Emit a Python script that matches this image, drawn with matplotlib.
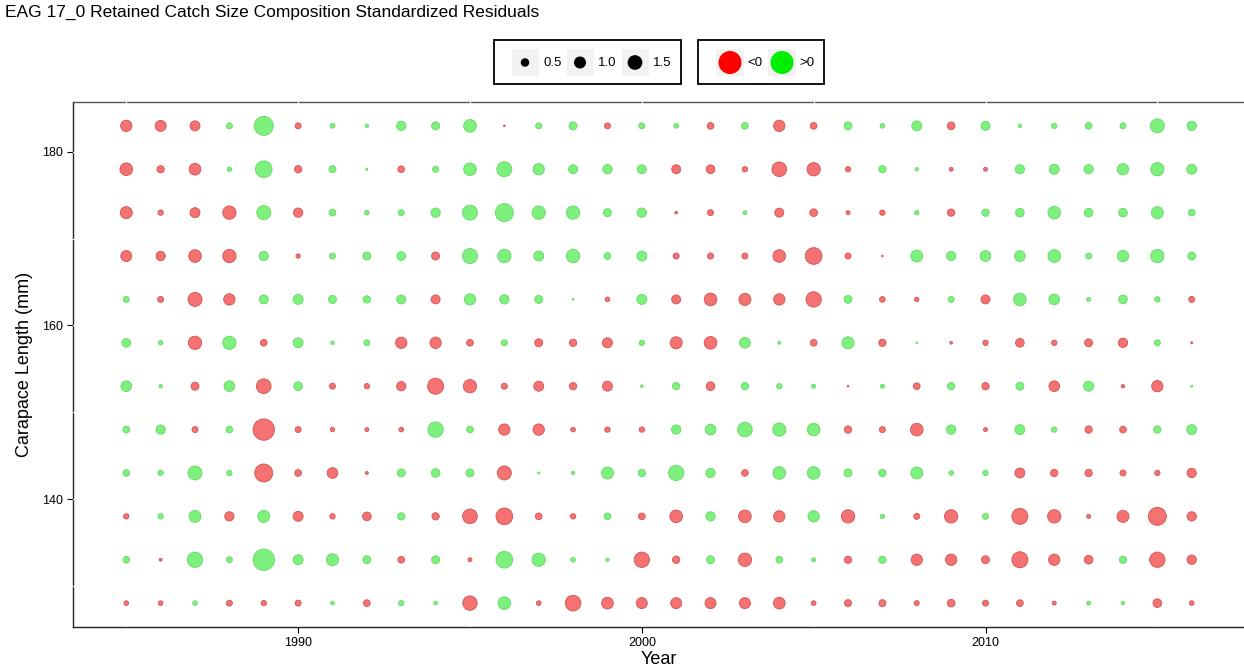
import numpy as np
import matplotlib
matplotlib.use('Agg')
import matplotlib.pyplot as plt
from matplotlib.patches import Rectangle

plt.rcParams['font.family'] = ['Liberation Sans', 'DejaVu Sans']

# Trục dữ liệu
years = list(range(1985, 2017))
lengths = [128, 133, 138, 143, 148, 153, 158, 163, 168, 173, 178, 183]
x_ticks = [1990, 2000, 2010]
y_ticks = [140, 160, 180]

# Residual chuẩn hoá theo từng nhóm chiều dài (1985 -> 2016)
r183 = [-0.89, -0.84, -0.69, 0.25, 2.51, -0.25, 0.15, 0.08, 0.60, 0.44, 1.11, -0.02, 0.25, 0.44, -0.25, 0.25,
        0.15, -0.31, 0.31, -0.89, -0.31, 0.44, 0.15, 0.69, -0.41, 0.56, 0.08, 0.20, 0.31, 0.25, 1.36, 0.60]
r178 = [-1.11, -0.37, -0.95, 0.13, 1.93, -0.37, 0.34, 0.03, -0.31, 0.25, 1.11, 1.56, 0.89, 0.56, 0.60, 0.56,
        -0.56, -0.52, -0.20, -1.49, -1.23, -0.20, 0.37, 0.08, -0.11, -0.11, 0.60, 0.69, 0.60, 0.89, 1.23, 0.69]
r173 = [-1.00, -0.20, -0.69, -1.23, 1.36, -0.60, 0.31, 0.15, 0.25, 0.60, 1.56, 2.25, 1.23, 1.23, 0.44, 0.60,
        -0.05, -0.25, 0.11, -0.56, -0.41, -0.11, -0.20, 0.13, -0.37, 0.37, 0.52, 1.11, 0.52, 0.52, 1.00, 0.31]
r168 = [-0.84, -0.60, -1.11, -1.23, 0.60, -0.13, 0.25, 0.44, 0.52, -0.44, 1.56, 1.23, 0.69, 1.23, 0.31, 0.69,
        -0.25, -0.25, -0.25, -1.11, -1.93, -0.25, -0.02, 1.00, 0.60, 0.79, 0.79, 1.11, 0.25, 0.89, 1.23, 0.44]
r163 = [0.25, -0.25, -1.36, -0.89, 0.56, 0.69, 0.44, 0.37, 0.56, -0.56, 0.89, 0.60, 0.44, 0.02, -0.15, 0.69,
        -0.56, -1.11, -1.00, -0.89, -1.63, 0.44, -0.22, -0.13, 0.25, -0.56, 1.11, 0.79, 0.11, 0.52, 0.20, -0.25]
r158 = [0.52, 0.13, -1.23, 1.23, -0.31, 0.69, 0.08, 0.25, -0.89, -0.89, -0.31, 0.25, -0.44, -0.37, -0.69, 0.20,
        -1.00, -1.11, 0.79, 0.06, -0.31, 1.00, -0.37, 0.02, -0.05, -0.20, -0.52, -0.20, -0.44, -0.60, 0.25, -0.03]
r153 = [0.79, 0.08, -0.44, 0.79, -1.49, 0.52, -0.25, -0.20, -0.60, -1.78, -1.23, -0.25, -0.69, -0.37, -0.69, 0.05,
        0.37, -0.52, 0.37, 0.20, 0.11, -0.02, 0.11, -0.31, 0.37, -0.37, 0.44, -0.79, 0.69, -0.08, -0.89, 0.03]
r148 = [0.31, 0.60, -0.25, 0.31, -3.16, -0.25, -0.13, -0.11, -0.15, 1.63, 0.31, -0.89, -0.89, -0.15, -0.20, -0.20,
        0.60, 0.79, 1.49, 1.23, 1.11, -0.37, -0.25, -1.11, 0.60, -0.11, 0.69, 0.20, -0.37, -0.31, 0.37, 0.69]
r143 = [0.31, 0.20, 1.36, 0.20, -2.25, -0.31, -0.79, -0.06, 0.44, 0.52, 0.44, -1.36, 0.03, 0.08, 1.00, 0.37,
        1.63, 0.60, -0.31, 1.11, 1.11, 0.44, 0.37, 1.00, 0.15, 0.20, -0.69, -0.37, -0.37, -0.25, -0.20, -0.60]
r138 = [-0.20, 0.20, 1.00, -0.60, 1.00, -0.69, -0.20, -0.52, 0.37, -0.37, -1.49, -1.93, -0.31, -0.20, 0.31, -0.31,
        -1.11, 0.60, -1.11, -0.89, 0.89, -1.23, 0.13, -0.25, -1.23, 0.25, -1.78, -1.23, -0.11, -1.00, -2.25, -0.60]
r133 = [0.31, -0.06, 1.63, 0.25, 3.16, 0.69, 1.00, 0.44, -0.31, 0.44, -0.11, 1.93, 1.23, 0.15, 0.08, -1.63,
        -0.37, 0.44, -1.23, 0.31, 0.11, -0.37, 0.37, -0.89, -0.89, -0.44, -1.78, -0.89, -0.52, 0.37, -1.63, -0.60]
r128 = [-0.15, -0.15, 0.15, -0.25, -0.20, -0.25, 0.09, -0.31, 0.20, 0.09, -1.43, 1.11, -0.15, -1.70, -0.95, -0.84,
        -0.84, -0.84, -0.84, -0.95, -0.15, -0.34, -0.34, -0.17, -0.41, -0.25, -0.31, -0.11, 0.11, 0.08, -0.52, -0.15]

legend_sizes = [0.5, 1.0, 1.5]
legend_signs = ['<0', '>0']

DPI = 100
RED_FACE, RED_EDGE = '#f47272', '#d25252'
GREEN_FACE, GREEN_EDGE = '#7ef07e', '#66d866'


def px_to_s(d_px):
    # đường kính pixel -> s (points^2) cho scatter
    d_pt = d_px * 72.0 / DPI
    return d_pt ** 2


def resid_to_s(v):
    # scale theo diện tích: |r| = 1 -> 12 px
    return px_to_s(12.0 * np.sqrt(np.abs(v)))


fig = plt.figure(figsize=(12.44, 6.68), dpi=DPI)
W, H = 1244.0, 668.0
left, right, top, bottom = 73, 1245, 102, 627
ax = fig.add_axes([left / W, 1 - bottom / H, (right - left) / W, (bottom - top) / H])

rows = [r128, r133, r138, r143, r148, r153, r158, r163, r168, r173, r178, r183]
xs, ys, vs = [], [], []
for length, row in zip(lengths, rows):
    for yr, v in zip(years, row):
        xs.append(yr)
        ys.append(length)
        vs.append(v)
xs, ys, vs = np.array(xs), np.array(ys), np.array(vs)

neg = vs < 0
ax.scatter(xs[neg], ys[neg], s=resid_to_s(vs[neg]), c=RED_FACE, edgecolors=RED_EDGE, linewidths=0.6, zorder=4)
ax.scatter(xs[~neg], ys[~neg], s=resid_to_s(vs[~neg]), c=GREEN_FACE, edgecolors=GREEN_EDGE, linewidths=0.6, zorder=4)

# giới hạn trục kiểu ggplot (mở rộng 5%)
xr = years[-1] - years[0]
yr_ = lengths[-1] - lengths[0]
ax.set_xlim(years[0] - 0.05 * xr, years[-1] + 0.05 * xr)
ax.set_ylim(lengths[0] - 0.05 * yr_, lengths[-1] + 0.05 * yr_)

# đường lưới trắng
for gx in range(1985, 2020, 5):
    ax.axvline(gx, color='white', lw=0.9, zorder=3)
for gy in range(130, 190, 10):
    ax.axhline(gy, color='white', lw=0.9, zorder=3)

ax.set_xticks(x_ticks)
ax.set_yticks(y_ticks)
ax.tick_params(axis='both', direction='out', length=4, width=0.8, colors='black', labelsize=9)
for sp in ax.spines.values():
    sp.set_linewidth(1.0)
    sp.set_color('#222222')
ax.spines['top'].set_color('#555555')
ax.spines['right'].set_color('#bbbbbb')

ax.set_xlabel('Year', fontsize=13, labelpad=1)
ax.set_ylabel('Carapace Length (mm)', fontsize=13, labelpad=6)

fig.text(5 / W, 1 - 12 / H, 'EAG 17_0 Retained Catch Size Composition Standardized Residuals',
         fontsize=12.5, ha='left', va='center')

# --- Chú thích vẽ tay (toạ độ pixel) ---
lg = fig.add_axes([0, 0, 1, 1], facecolor='none')
lg.set_xlim(0, W)
lg.set_ylim(H, 0)
lg.axis('off')

lg.add_patch(Rectangle((494, 40), 187, 44, fill=False, lw=1.3, ec='black'))
lg.add_patch(Rectangle((698, 40), 126, 44, fill=False, lw=1.3, ec='black'))

key_x = [525, 580, 635]
for kx, v in zip(key_x, legend_sizes):
    lg.add_patch(Rectangle((kx - 13, 49), 27, 27, fc='#f2f2f2', ec='none'))
    lg.scatter([kx], [62.5], s=resid_to_s(v), c='black', edgecolors='none')
    lg.text(kx + 18, 62.5, f'{v:.1f}', fontsize=9.5, va='center', ha='left')

sign_x = [730, 782]
sign_col = ['#ff0000', '#00ee00']
for kx, lab, col in zip(sign_x, legend_signs, sign_col):
    lg.add_patch(Rectangle((kx - 14, 49), 28, 27, fc='#f2f2f2', ec='none'))
    lg.scatter([kx], [62.5], s=px_to_s(23), c=col, edgecolors='none')
    lg.text(kx + 17, 62.5, lab, fontsize=9.5, va='center', ha='left')

fig.savefig('out.png', dpi=DPI)
